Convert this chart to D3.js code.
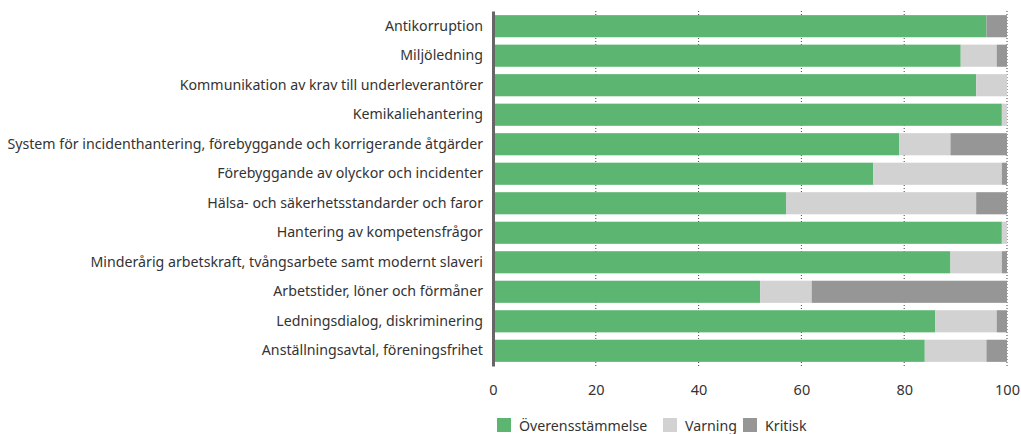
<!DOCTYPE html>
<html>
<head>
<meta charset="utf-8">
<script src="https://cdn.jsdelivr.net/npm/d3@7"></script>
<style>
  body { margin: 0; background: #fff; }
  text { font-family: "Noto Sans", "Open Sans", sans-serif; fill: #333; }
</style>
</head>
<body>
<div id="viz"></div>
<script>
var categories = [
  "Antikorruption",
  "Miljöledning",
  "Kommunikation av krav till underleverantörer",
  "Kemikaliehantering",
  "System för incidenthantering, förebyggande och korrigerande åtgärder",
  "Förebyggande av olyckor och incidenter",
  "Hälsa- och säkerhetsstandarder och faror",
  "Hantering av kompetensfrågor",
  "Minderårig arbetskraft, tvångsarbete samt modernt slaveri",
  "Arbetstider, löner och förmåner",
  "Ledningsdialog, diskriminering",
  "Anställningsavtal, föreningsfrihet"
];
var overensstammelse = [96, 91, 94, 99, 79, 74, 57, 99, 89, 52, 86, 84];
var varning          = [0, 7, 6, 1, 10, 25, 37, 1, 10, 10, 12, 12];
var kritisk          = [4, 2, 0, 0, 11, 1, 6, 0, 1, 38, 2, 4];
var seriesNames = ["Överensstämmelse", "Varning", "Kritisk"];
var xTicks = [0, 20, 40, 60, 80, 100];

var w = 1021, h = 434,
    margin = { top: 11, right: 14, bottom: 68, left: 493 },
    colors = ["#5cb671", "#d1d2d1", "#959695"];

var svg = d3.select("#viz").append("svg")
    .attr("width", w).attr("height", h);

var g = svg.append("g")
    .attr("transform", "translate(" + margin.left + "," + margin.top + ")");

var iw = w - margin.left - margin.right,
    ih = h - margin.top - margin.bottom;

var rows = categories.map(function(c, i) {
  return { cat: c, "Överensstämmelse": overensstammelse[i], "Varning": varning[i], "Kritisk": kritisk[i] };
});

var x = d3.scaleLinear().domain([0, 100]).range([0, iw]);
var y = d3.scaleBand().domain(categories).range([0, ih]).paddingInner(0.25).paddingOuter(0.14);

// dotted grid lines
g.selectAll(".grid").data(xTicks.slice(1)).enter()
  .append("line")
  .attr("x1", function(d) { return x(d); })
  .attr("x2", function(d) { return x(d); })
  .attr("y1", 0).attr("y2", ih)
  .attr("stroke", "#444")
  .attr("stroke-width", 1)
  .style("stroke-dasharray", "1,2");

var stack = d3.stack().keys(seriesNames)(rows);

g.selectAll(".series").data(stack).enter()
  .append("g")
  .attr("fill", function(d, i) { return colors[i]; })
  .selectAll("rect").data(function(d) { return d; }).enter()
  .append("rect")
  .attr("x", function(d) { return x(d[0]); })
  .attr("width", function(d) { return x(d[1]) - x(d[0]); })
  .attr("y", function(d) { return y(d.data.cat); })
  .attr("height", y.bandwidth());

// y axis
var yAxis = g.append("g").call(d3.axisLeft(y).tickSize(0).tickPadding(10));
yAxis.select(".domain").attr("stroke", "#666").attr("stroke-width", 3);
yAxis.selectAll("text").style("font-size", "14.2px").attr("fill", "#333");

// x axis labels
var xAxis = g.append("g")
  .attr("transform", "translate(0," + ih + ")")
  .call(d3.axisBottom(x).tickValues(xTicks).tickSize(0).tickPadding(19));
xAxis.select(".domain").remove();
xAxis.selectAll("text").style("font-size", "14.5px").attr("fill", "#333");

// legend
var legend = svg.append("g").attr("transform", "translate(497,418)");
var offsets = [0, 166, 246];
var items = legend.selectAll(".item").data(seriesNames).enter()
  .append("g")
  .attr("transform", function(d, i) { return "translate(" + offsets[i] + ",0)"; });
items.append("rect")
  .attr("width", 14).attr("height", 14)
  .attr("fill", function(d, i) { return colors[i]; });
items.append("text")
  .attr("x", 22).attr("y", 13)
  .style("font-size", "14.2px")
  .text(function(d) { return d; });
</script>
</body>
</html>
